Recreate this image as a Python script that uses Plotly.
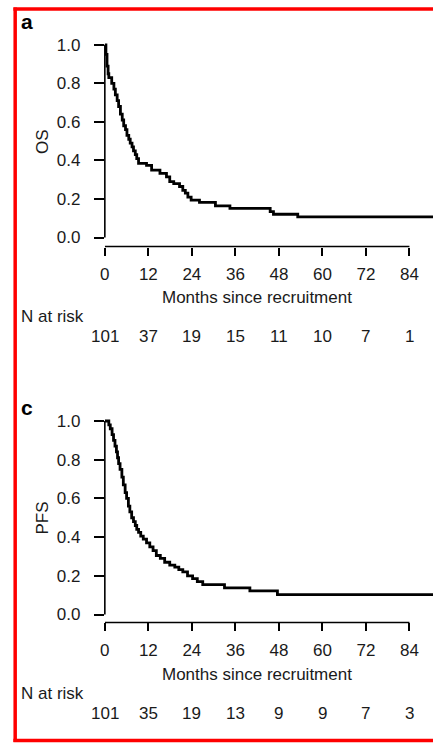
import plotly.graph_objects as go

# ---------------- data ----------------
os_months = [0, 0.3, 0.6, 0.9, 1.1, 1.9, 2.5, 2.9, 3.4, 3.8, 4.3, 4.8, 5.2, 5.7, 6.1, 6.6,
             7.0, 7.5, 7.9, 8.4, 8.8, 9.3, 11.5, 12.9, 15.2, 17.0, 17.9, 19.0, 20.6, 21.5,
             22.2, 22.9, 23.8, 26.1, 30.5, 34.5, 45.6, 46.5, 53.2, 90.5]
os_surv = [1.0, 0.95, 0.89, 0.85, 0.83, 0.80, 0.77, 0.74, 0.71, 0.68, 0.64, 0.61, 0.58, 0.56,
           0.53, 0.51, 0.49, 0.47, 0.45, 0.43, 0.41, 0.385, 0.375, 0.35, 0.333, 0.315, 0.29,
           0.28, 0.265, 0.245, 0.23, 0.21, 0.194, 0.182, 0.164, 0.151, 0.135, 0.121, 0.107, 0.107]

pfs_months = [0, 1.1, 1.5, 2.0, 2.4, 2.8, 3.2, 3.5, 3.8, 4.2, 4.7, 5.1, 5.6, 6.0, 6.5, 6.9,
              7.4, 7.9, 8.4, 8.8, 9.3, 9.9, 10.6, 11.5, 12.4, 13.3, 14.2, 15.3, 16.5, 17.9,
              19.3, 20.4, 21.5, 22.8, 24.2, 25.5, 27.0, 33.0, 40.0, 47.6, 90.5]
pfs_surv = [1.0, 0.98, 0.96, 0.93, 0.90, 0.87, 0.84, 0.81, 0.78, 0.75, 0.71, 0.67, 0.63, 0.60,
            0.56, 0.53, 0.50, 0.48, 0.46, 0.44, 0.425, 0.405, 0.39, 0.37, 0.35, 0.33, 0.305,
            0.29, 0.27, 0.255, 0.245, 0.232, 0.22, 0.20, 0.185, 0.17, 0.155, 0.138, 0.122,
            0.103, 0.103]

x_ticks = [0, 12, 24, 36, 48, 60, 72, 84]
y_ticks = [0.0, 0.2, 0.4, 0.6, 0.8, 1.0]
y_tick_labels = ["0.0", "0.2", "0.4", "0.6", "0.8", "1.0"]
os_at_risk = [101, 37, 19, 15, 11, 10, 7, 1]
pfs_at_risk = [101, 35, 19, 13, 9, 9, 7, 3]

panel_labels = ["a", "c"]
y_titles = ["OS", "PFS"]
x_title = "Months since recruitment"
risk_label = "N at risk"

# ---------------- layout helpers ----------------
W, H = 433, 745
FONT = "Liberation Sans, Arial, Helvetica, sans-serif"
TXT = "#1a1a1a"


def py(pix):
    return 1 - pix / H


def px(pix):
    return pix / W


fig = go.Figure()
fig.add_trace(go.Scatter(x=os_months, y=os_surv, mode="lines", line=dict(color="black", width=2.8, shape="hv"),
                         xaxis="x", yaxis="y", showlegend=False, hoverinfo="skip"))
fig.add_trace(go.Scatter(x=pfs_months, y=pfs_surv, mode="lines", line=dict(color="black", width=2.8, shape="hv"),
                         xaxis="x2", yaxis="y2", showlegend=False, hoverinfo="skip"))

xdom = [px(101), 1.0]
# panel pixel geometry: (plot top, plot bottom, y=1 pixel, y=0 pixel)
panels = [
    dict(top=36, bottom=246.5, y1=44, y0=237.5),
    dict(top=413, bottom=624, y1=421.7, y0=616),
]

common_x = dict(range=[0, 90.5], tickvals=x_ticks, ticks="outside", ticklen=8, tickwidth=1.6,
                tickcolor="black", showline=False, zeroline=False, showgrid=False,
                tickfont=dict(family=FONT, size=17, color=TXT), ticklabelstandoff=4,
                domain=xdom, fixedrange=True)

layout_axes = {}
for i, p in enumerate(panels):
    scale = p["y0"] - p["y1"]
    yr = [-(p["bottom"] - p["y0"]) / scale, 1 + (p["y1"] - p["top"]) / scale]
    xa = "xaxis" if i == 0 else "xaxis2"
    ya = "yaxis" if i == 0 else "yaxis2"
    yname = "y" if i == 0 else "y2"
    xname = "x" if i == 0 else "x2"
    layout_axes[xa] = dict(common_x, anchor=yname)
    layout_axes[ya] = dict(range=yr, domain=[py(p["bottom"]), py(p["top"])], anchor=xname,
                           tickvals=y_ticks, ticktext=y_tick_labels, ticks="outside", ticklen=10,
                           tickwidth=1.6, tickcolor="black", showline=False, zeroline=False,
                           showgrid=False, tickfont=dict(family=FONT, size=17, color=TXT),
                           ticklabelstandoff=10, fixedrange=True)

fig.update_layout(width=W, height=H, margin=dict(l=0, r=0, t=0, b=0),
                  paper_bgcolor="white", plot_bgcolor="white",
                  font=dict(family=FONT, size=17, color=TXT), **layout_axes)

shapes = []
annotations = []
text_rows = [
    dict(label=21, ytitle=141, xtitle=298, risk=317, nums=337),
    dict(label=408, ytitle=519, xtitle=676.7, risk=695, nums=715),
]
risk_data = [os_at_risk, pfs_at_risk]
for i, (p, r) in enumerate(zip(panels, text_rows)):
    xname = "x" if i == 0 else "x2"
    yname = "y" if i == 0 else "y2"
    # R-style axis lines limited to the tick range
    shapes.append(dict(type="line", xref=xname, yref=f"{yname} domain", x0=x_ticks[0], x1=x_ticks[-1],
                       y0=0, y1=0, line=dict(color="black", width=1.6)))
    shapes.append(dict(type="line", xref=f"{xname} domain", yref=yname, x0=0, x1=0,
                       y0=y_ticks[0], y1=y_ticks[-1], line=dict(color="black", width=1.6)))
    annotations.append(dict(text=f"<b>{panel_labels[i]}</b>", xref="paper", yref="paper", x=px(14),
                            y=py(r["label"]), xanchor="left", yanchor="middle", showarrow=False,
                            font=dict(family=FONT, size=21, color="black")))
    annotations.append(dict(text=y_titles[i], xref="paper", yref="paper", x=px(38), y=py(r["ytitle"]),
                            xanchor="center", yanchor="middle", textangle=-90, showarrow=False,
                            font=dict(family=FONT, size=17, color=TXT)))
    annotations.append(dict(text=x_title, xref=xname, yref="paper", x=(x_ticks[0] + x_ticks[-1]) / 2,
                            y=py(r["xtitle"]), xanchor="center", yanchor="middle", showarrow=False,
                            font=dict(family=FONT, size=17, color=TXT)))
    annotations.append(dict(text=risk_label, xref="paper", yref="paper", x=px(14), y=py(r["risk"]),
                            xanchor="left", yanchor="middle", showarrow=False,
                            font=dict(family=FONT, size=17, color=TXT)))
    for xv, n in zip(x_ticks, risk_data[i]):
        annotations.append(dict(text=str(n), xref=xname, yref="paper", x=xv, y=py(r["nums"]),
                                xanchor="center", yanchor="middle", showarrow=False,
                                font=dict(family=FONT, size=17, color=TXT)))

# red frame
red = dict(color="#ff0000", width=3.5)
shapes.append(dict(type="line", xref="paper", yref="paper", x0=px(8.5), x1=1.02, y0=py(8), y1=py(8), line=red))
shapes.append(dict(type="line", xref="paper", yref="paper", x0=px(10.3), x1=px(10.3), y0=py(6.5), y1=py(744), line=red))
shapes.append(dict(type="line", xref="paper", yref="paper", x0=px(8.5), x1=1.02, y0=py(742.5), y1=py(742.5), line=red))

fig.update_layout(shapes=shapes, annotations=annotations)
fig.write_html("out.html")
